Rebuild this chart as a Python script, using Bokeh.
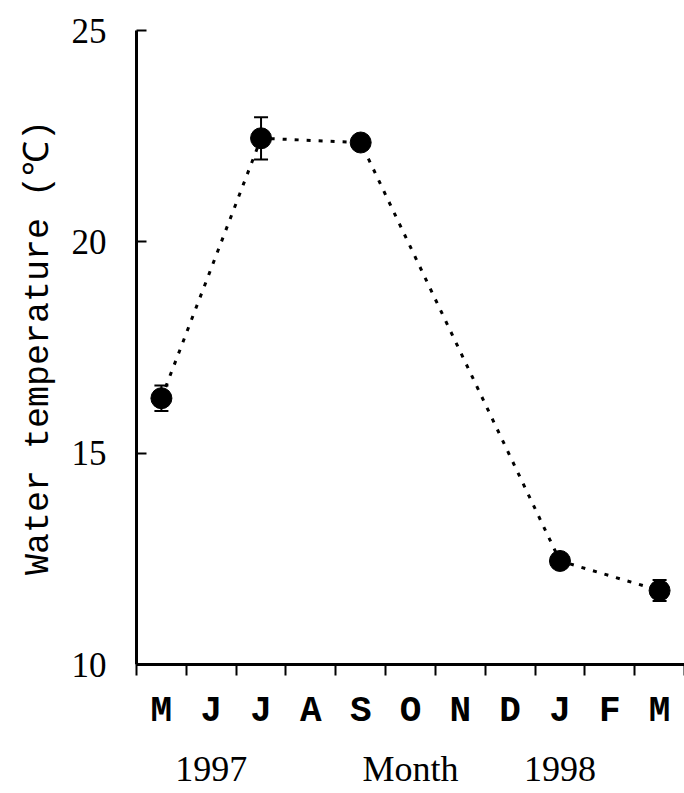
from bokeh.plotting import figure
from bokeh.models import FixedTicker, Whisker, ColumnDataSource, Range1d, TeeHead, LinearAxis
from bokeh.embed import file_html
from bokeh.resources import INLINE

# ---- data ----
month_labels = ["M", "J", "J", "A", "S", "O", "N", "D", "J", "F", "M"]  # May 1997 .. Mar 1998
sample_month_index = [0, 2, 4, 8, 10]          # May, Jul, Sep 1997; Jan, Mar 1998
water_temp = [16.3, 22.45, 22.35, 12.45, 11.75]
temp_error = [0.3, 0.5, 0.1, 0.1, 0.25]
year_labels = ["1997", "1998"]
year_month_index = [1, 8]
x_title = "Month"
y_title = "Water temperature (℃)"
y_ticks = [10, 15, 20, 25]

upper = [t + e for t, e in zip(water_temp, temp_error)]
lower = [t - e for t, e in zip(water_temp, temp_error)]
src = ColumnDataSource(dict(x=sample_month_index, y=water_temp, upper=upper, lower=lower))

MONO = "Liberation Mono"
SERIF = "Liberation Serif"

p = figure(width=684, height=793, output_backend="svg", toolbar_location=None,
           x_range=Range1d(-0.5, len(month_labels) - 0.5),
           y_range=Range1d(y_ticks[0], y_ticks[-1]),
           min_border_left=136, min_border_right=0, min_border_top=30, min_border_bottom=129)
p.outline_line_color = None
p.xgrid.visible = False
p.ygrid.visible = False
p.background_fill_color = "white"
p.border_fill_color = "white"

# x axis: month letters centred in month bins, tick marks at bin edges
xa = p.xaxis[0]
xa.ticker = FixedTicker(ticks=list(range(len(month_labels))),
                        minor_ticks=[i - 0.5 for i in range(len(month_labels) + 1)])
xa.major_label_overrides = {i: m for i, m in enumerate(month_labels)}
xa.major_tick_in = 0
xa.major_tick_out = 0
xa.minor_tick_in = 0
xa.minor_tick_out = 11
xa.minor_tick_line_width = 2
xa.minor_tick_line_color = "black"
xa.axis_line_width = 3
xa.axis_line_color = "black"
xa.major_label_text_font = MONO
xa.major_label_text_font_size = "36px"
xa.major_label_text_font_style = "bold"
xa.major_label_text_color = "black"
xa.major_label_standoff = 15

# second row below: years and the axis title
mid = (len(month_labels) - 1) / 2
row2 = LinearAxis(ticker=FixedTicker(ticks=[year_month_index[0], mid, year_month_index[1]], minor_ticks=[]),
                  major_label_overrides={year_month_index[0]: year_labels[0], mid: x_title,
                                         year_month_index[1]: year_labels[1]},
                  axis_line_color=None, major_tick_line_color=None, minor_tick_line_color=None,
                  major_tick_in=0, major_tick_out=0,
                  major_label_text_font=SERIF, major_label_text_font_size="36px",
                  major_label_text_color="black", major_label_standoff=14)
p.add_layout(row2, "below")

# y axis
ya = p.yaxis[0]
ya.ticker = FixedTicker(ticks=y_ticks, minor_ticks=[])
ya.major_tick_in = 10
ya.major_tick_out = 0
ya.minor_tick_in = 0
ya.minor_tick_out = 0
ya.major_tick_line_width = 2
ya.major_tick_line_color = "black"
ya.axis_line_width = 3
ya.axis_line_color = "black"
ya.major_label_text_font = SERIF
ya.major_label_text_font_size = "35px"
ya.major_label_text_color = "black"
ya.major_label_standoff = 30
ya.axis_label = y_title
ya.axis_label_text_font = MONO
ya.axis_label_text_font_size = "35px"
ya.axis_label_text_font_style = "normal"
ya.axis_label_text_color = "black"
ya.axis_label_standoff = 10

# data
p.line("x", "y", source=src, line_color="black", line_width=3, line_dash="4 8")
p.add_layout(Whisker(base="x", upper="upper", lower="lower", source=src,
                     line_color="black", line_width=2,
                     upper_head=TeeHead(size=14, line_width=2, line_color="black"),
                     lower_head=TeeHead(size=14, line_width=2, line_color="black")))
p.scatter("x", "y", source=src, size=21, fill_color="black", line_color="black")

open("out.html", "w").write(file_html(p, INLINE))
